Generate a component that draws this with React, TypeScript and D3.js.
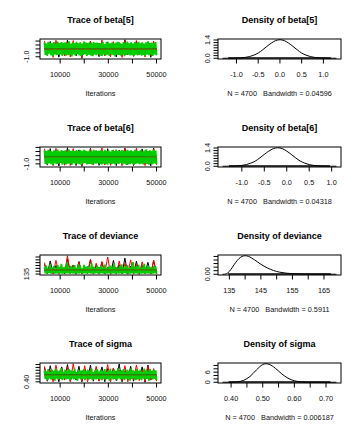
import React from "react";
import * as d3 from "d3";

// ---------- data ----------
const paramNames = ["beta[5]", "beta[6]", "deviance", "sigma"];
const bandwidths = ["0.04596", "0.04318", "0.5911", "0.006187"];
const sampleN = 4700;
const ITER_START = 3500;
const ITER_END = 50000;
const traceXTicks = [10000, 20000, 30000, 40000, 50000];
const traceXLabels = ["10000", "", "30000", "", "50000"];

// chains (thinned readings of the trace: black, red, green)
const beta5Black = [0.6,-0.7,0.95,-0.5,0.7,-1.05,0.55,-0.8,1.12,-0.6,0.75,-0.9,0.5,-1.19,0.8,-0.65,1.0,-0.7,0.6,-0.98,0.72,-0.55,0.9,-0.85,0.65,-1.02,0.8,-0.6,1.17,-0.75,0.55,-0.92,0.96,-0.7,0.68,-0.8,0.88,-1.07,0.6,-0.7];
const beta5Red = [1.02,-0.6,0.7,-1.08,1.1,-0.7,0.6,-0.9,0.85,-1.03,1.06,-0.55,0.65,-1.12,0.8,-0.7,0.98,-0.8,0.6,-0.75,1.14,-0.9,0.7,-1.0,0.92,-0.6,0.75,-1.09,1.04,-0.65,0.6,-0.95,1.07,-0.7,0.8,-1.04,0.66,-0.85,1.01,-0.7];
const beta5Green = [
  0.82,-0.75,0.68,-0.88,0.91,-0.62,0.77,-0.84,0.7,-0.93,0.86,-0.71,0.64,-0.8,0.95,-0.77,0.73,-0.69,0.88,-0.9,
  0.79,-0.66,0.84,-0.86,0.71,-0.79,0.98,-0.73,0.67,-0.95,0.83,-0.7,0.76,-0.87,0.9,-0.64,0.72,-0.82,0.85,-0.91,
  0.69,-0.76,0.93,-0.68,0.8,-0.89,0.74,-0.72,0.87,-0.83,0.66,-0.94,0.89,-0.7,0.78,-0.8,0.81,-0.67,0.75,-0.85,
  0.72,-0.88,0.86,-0.69,0.63,-0.83,0.92,-0.74,0.77,-0.9,0.7,-0.65,0.85,-0.81,0.68,-0.96,0.81,-0.72,0.9,-0.78,
  0.74,-0.86,0.65,-0.7,0.88,-0.92,0.79,-0.75,0.94,-0.68,0.71,-0.84,0.83,-0.79,0.67,-0.89,0.87,-0.73,0.76,-0.82,
  0.9,-0.66,0.73,-0.87,0.8,-0.77,0.69,-0.91,0.84,-0.71,0.96,-0.8,0.75,-0.74,0.82,-0.88,0.7,-0.69,0.86,-0.83];
const beta5Smooth = [0.02, -0.01, 0.0]; // lowess level per chain

const beta6Black = [0.5,-1.15,0.85,-0.9,0.6,-1.25,0.45,-1.0,0.96,-0.8,0.55,-1.2,0.7,-1.29,0.5,-0.9,0.88,-1.0,0.6,-1.18,0.45,-0.95,0.84,-1.05,0.55,-1.22,0.65,-0.85,0.9,-1.07,0.5,-1.2,0.6,-0.95,0.82,-1.0,0.55,-1.24,0.92,-0.9];
const beta6Red = [0.84,-0.9,0.5,-1.22,0.88,-0.95,0.6,-1.17,0.7,-1.2,0.86,-0.85,0.5,-1.26,0.65,-1.0,0.83,-1.15,0.55,-0.9,0.94,-1.13,0.5,-1.18,0.7,-0.9,0.6,-1.23,0.85,-1.0,0.55,-1.16,0.89,-0.95,0.6,-1.21,0.5,-1.0,0.81,-1.14];
const beta6Green = [
  0.62,-1.0,0.55,-1.08,0.7,-0.93,0.58,-1.04,0.51,-1.12,0.66,-0.96,0.6,-1.01,0.73,-0.98,0.53,-0.9,0.68,-1.1,
  0.57,-0.95,0.64,-1.06,0.5,-0.99,0.75,-0.94,0.59,-1.13,0.63,-0.92,0.56,-1.05,0.69,-0.97,0.52,-1.03,0.67,-1.09,
  0.6,-0.96,0.72,-0.91,0.58,-1.07,0.54,-1.0,0.65,-1.02,0.49,-1.11,0.7,-0.94,0.61,-0.99,0.57,-0.93,0.62,-1.04,
  0.66,-1.06,0.53,-0.97,0.71,-1.01,0.59,-1.1,0.64,-0.92,0.5,-1.04,0.68,-0.98,0.56,-1.08,0.74,-0.95,0.6,-1.02,
  0.55,-0.9,0.67,-1.07,0.62,-0.99,0.52,-1.12,0.7,-0.96,0.58,-1.03,0.65,-0.94,0.54,-1.09,0.72,-1.0,0.6,-0.93,
  0.57,-1.05,0.69,-0.98,0.51,-1.06,0.63,-0.91,0.76,-1.01,0.55,-1.1,0.66,-0.97,0.59,-1.04,0.7,-0.95,0.62,-1.02];
const beta6Smooth = [-0.19, -0.21, -0.2];

const devBlack = [152,135.2,158,136,150,135.4,146,135,162,136.5,151,134.8,157,135.8,148,135.5,160,134.9,150.5,136.2,156,135,147,134.7,159,135.3,151.5,136,163,134.9,149,135.4,157.5,134.6,150,135.9,155.5,135,158.5,135.8];
const devRed = [155,135.8,151,135.3,159,134.8,148,136,167.2,135,150,135.4,156,134.9,147,135.9,161,135.3,154,134.8,157,136.1,165,135.2,149,134.9,158,135.3,153.5,136,160,134.8,152,135.2,156.5,135.7,148.5,134.9,159.5,135];
const devGreen = [
  147,136.2,150,135.8,145,136.5,152,135.6,146,136.9,149,135.9,144,136.3,151,135.7,147.5,136.1,153,135.5,
  146.5,136.6,148,135.9,155,136.2,145.5,135.8,149.5,136.4,147,135.7,150.5,136,146,136.3,152.5,135.6,148.5,136.8,
  145,135.9,151,136.1,147.5,135.7,149,136.5,146,135.8,154,136.2,148,135.9,145.5,136.4,150,135.6,147,136,
  149,136.3,146,135.7,151.5,136.1,144.5,135.9,148,136.6,150,135.8,146.5,136.2,153.5,135.6,147,136.4,145,135.9,
  149.5,136.1,152,135.7,146,136.5,148.5,135.8,150.5,136.2,145.5,135.6,147.5,136.3,156,135.9,146.5,136.1,149,135.7,
  151,136.4,145,135.8,148,136,153,135.6,146.5,136.3,150,135.9,147,136.2,144.5,135.7,149.5,136.1,148,136];
const devSmooth = [141.6, 141.9, 141.7];

const sigmaBlack = [0.65,0.41,0.68,0.45,0.6,0.4,0.66,0.44,0.7,0.41,0.58,0.43,0.67,0.4,0.62,0.45,0.69,0.41,0.6,0.42,0.66,0.4,0.63,0.44,0.64,0.42,0.71,0.4,0.59,0.43,0.67,0.41,0.62,0.45,0.66,0.392,0.69,0.43,0.6,0.42];
const sigmaRed = [0.67,0.42,0.6,0.4,0.69,0.44,0.63,0.43,0.66,0.4,0.714,0.45,0.6,0.41,0.68,0.4,0.62,0.44,0.67,0.41,0.59,0.43,0.7,0.4,0.64,0.45,0.6,0.42,0.68,0.4,0.62,0.44,0.69,0.42,0.61,0.4,0.67,0.43,0.63,0.41];
const sigmaGreen = [
  0.6,0.45,0.58,0.43,0.62,0.46,0.57,0.44,0.61,0.45,0.59,0.42,0.63,0.46,0.58,0.44,0.6,0.45,0.64,0.43,
  0.57,0.46,0.61,0.44,0.59,0.45,0.62,0.43,0.6,0.46,0.58,0.44,0.63,0.45,0.57,0.42,0.61,0.46,0.59,0.44,
  0.6,0.45,0.62,0.43,0.58,0.46,0.61,0.44,0.59,0.45,0.63,0.43,0.57,0.46,0.6,0.44,0.62,0.45,0.58,0.44,
  0.61,0.43,0.59,0.46,0.62,0.44,0.57,0.45,0.6,0.42,0.63,0.46,0.58,0.44,0.61,0.45,0.59,0.43,0.64,0.46,
  0.58,0.44,0.6,0.45,0.62,0.43,0.57,0.46,0.61,0.44,0.59,0.42,0.63,0.45,0.6,0.46,0.58,0.43,0.62,0.44,
  0.59,0.45,0.61,0.43,0.57,0.46,0.63,0.44,0.6,0.45,0.58,0.42,0.62,0.46,0.59,0.44,0.61,0.45,0.6,0.43];
const sigmaSmooth = [0.516, 0.512, 0.514];

// trace y ticks
const beta5TraceYTicks = [-1.0, -0.5, 0, 0.5, 1.0];
const beta5TraceYLabels = ["-1.0", "", "", "", ""];
const beta6TraceYTicks = [-1.0, -0.5, 0, 0.5, 1.0];
const beta6TraceYLabels = ["-1.0", "", "", "", ""];
const devTraceYTicks = [135, 140, 145, 150, 155, 160, 165];
const devTraceYLabels = ["135", "", "", "", "", "", ""];
const sigmaTraceYTicks = [0.4, 0.45, 0.5, 0.55, 0.6, 0.65, 0.7];
const sigmaTraceYLabels = ["0.40", "", "", "", "", "", ""];

// densities
const beta5DensX = [-1.32,-1.2,-1.1,-1.0,-0.9,-0.8,-0.7,-0.6,-0.5,-0.4,-0.3,-0.2,-0.1,0,0.1,0.2,0.3,0.4,0.5,0.6,0.7,0.8,0.9,1.0,1.1,1.2,1.3];
const beta5DensY = [0,0.002,0.004,0.012,0.03,0.065,0.13,0.24,0.4,0.64,0.91,1.16,1.35,1.42,1.35,1.16,0.91,0.64,0.4,0.24,0.13,0.065,0.03,0.012,0.004,0.002,0];
const beta6DensX = [-1.43,-1.3,-1.2,-1.1,-1.0,-0.9,-0.8,-0.7,-0.6,-0.5,-0.4,-0.3,-0.2,-0.1,0,0.1,0.2,0.3,0.4,0.5,0.6,0.7,0.8,0.9,1.0,1.107];
const beta6DensY = [0,0.003,0.012,0.03,0.065,0.13,0.24,0.4,0.64,0.91,1.16,1.35,1.42,1.35,1.16,0.91,0.64,0.4,0.24,0.13,0.065,0.03,0.012,0.004,0.002,0];
const devDensX = [132.85,133.5,134,135,136,137,138,139,140,141,142,143,145,147,149,151,153,155,158,160,163,166,168.95];
const devDensY = [0,0.0003,0.0023,0.0158,0.04,0.066,0.087,0.1,0.104,0.101,0.092,0.081,0.056,0.036,0.021,0.0116,0.0062,0.0032,0.0011,0.0006,0.0002,0.0001,0];
const sigmaDensX = [0.373,0.4,0.42,0.44,0.46,0.48,0.5,0.51,0.52,0.54,0.56,0.58,0.6,0.62,0.64,0.66,0.68,0.7,0.733];
const sigmaDensY = [0,0.04,0.27,1.16,3.5,7.3,10.5,11,10.66,8.3,5.0,2.4,0.88,0.25,0.056,0.01,0.003,0.001,0];

const beta5DensXTicks = [-1.0, -0.5, 0, 0.5, 1.0];
const beta5DensXLabels = ["-1.0", "-0.5", "0.0", "0.5", "1.0"];
const beta6DensXTicks = [-1.0, -0.5, 0, 0.5, 1.0];
const beta6DensXLabels = ["-1.0", "-0.5", "0.0", "0.5", "1.0"];
const devDensXTicks = [135, 140, 145, 150, 155, 160, 165];
const devDensXLabels = ["135", "", "145", "", "155", "", "165"];
const sigmaDensXTicks = [0.4, 0.45, 0.5, 0.55, 0.6, 0.65, 0.7];
const sigmaDensXLabels = ["0.40", "", "0.50", "", "0.60", "", "0.70"];

const beta5DensYTicks = [0, 0.2, 0.4, 0.6, 0.8, 1.0, 1.2, 1.4];
const beta5DensYLabels = ["0.0", "", "", "", "", "", "", "1.4"];
const beta6DensYTicks = [0, 0.2, 0.4, 0.6, 0.8, 1.0, 1.2, 1.4];
const beta6DensYLabels = ["0.0", "", "", "", "", "", "", "1.4"];
const devDensYTicks = [0, 0.02, 0.04, 0.06, 0.08, 0.1];
const devDensYLabels = ["0.00", "", "", "", "", ""];
const sigmaDensYTicks = [0, 2, 4, 6, 8, 10];
const sigmaDensYLabels = ["0", "", "", "6", "", ""];

// ---------- assembled table ----------
const panels = [
  { black: beta5Black, red: beta5Red, green: beta5Green, smooth: beta5Smooth, tyT: beta5TraceYTicks, tyL: beta5TraceYLabels, dx: beta5DensX, dy: beta5DensY, dxT: beta5DensXTicks, dxL: beta5DensXLabels, dyT: beta5DensYTicks, dyL: beta5DensYLabels },
  { black: beta6Black, red: beta6Red, green: beta6Green, smooth: beta6Smooth, tyT: beta6TraceYTicks, tyL: beta6TraceYLabels, dx: beta6DensX, dy: beta6DensY, dxT: beta6DensXTicks, dxL: beta6DensXLabels, dyT: beta6DensYTicks, dyL: beta6DensYLabels },
  { black: devBlack, red: devRed, green: devGreen, smooth: devSmooth, tyT: devTraceYTicks, tyL: devTraceYLabels, dx: devDensX, dy: devDensY, dxT: devDensXTicks, dxL: devDensXLabels, dyT: devDensYTicks, dyL: devDensYLabels },
  { black: sigmaBlack, red: sigmaRed, green: sigmaGreen, smooth: sigmaSmooth, tyT: sigmaTraceYTicks, tyL: sigmaTraceYLabels, dx: sigmaDensX, dy: sigmaDensY, dxT: sigmaDensXTicks, dxL: sigmaDensXLabels, dyT: sigmaDensYTicks, dyL: sigmaDensYLabels },
];

// ---------- layout ----------
const ROW_H = 108;
const BOX_TOP = 39;
const BOX_BOTTOM = 59;
const TR_L = 40, TR_R = 161;
const DE_L = 218, DE_R = 341;
const TICK = 4.5;
const FONT = "'Liberation Sans', Arial, Helvetica, sans-serif";
const AXIS_FS = 7.3;
const TITLE_FS = 9;
const TEXT_COL = "#111";
const CHAIN_COLS = ["#000000", "#FF0000", "#00CD00"];

function pad4(lo: number, hi: number): [number, number] {
  const r = hi - lo;
  return [lo - 0.04 * r, hi + 0.04 * r];
}

function XAxis({ scale, ticks, labels, oy }: any) {
  const [d0, d1] = scale.domain();
  return (
    <g>
      {ticks.map((t: number, i: number) =>
        t >= d0 && t <= d1 ? (
          <g key={i}>
            <line x1={scale(t)} x2={scale(t)} y1={oy + BOX_BOTTOM} y2={oy + BOX_BOTTOM + TICK} stroke="#000" strokeWidth={1} />
            {labels[i] ? (
              <text x={scale(t)} y={oy + 76.6} fontSize={AXIS_FS} textAnchor="middle" fill={TEXT_COL}>{labels[i]}</text>
            ) : null}
          </g>
        ) : null
      )}
    </g>
  );
}

function YAxis({ scale, ticks, labels, left, labX }: any) {
  const [d0, d1] = scale.domain();
  return (
    <g>
      {ticks.map((t: number, i: number) =>
        t >= d0 && t <= d1 ? (
          <g key={i}>
            <line x1={left - TICK} x2={left} y1={scale(t)} y2={scale(t)} stroke="#000" strokeWidth={1} />
            {labels[i] ? (
              <text transform={`translate(${labX},${scale(t)}) rotate(-90)`} fontSize={AXIS_FS} textAnchor="middle" fill={TEXT_COL}>{labels[i]}</text>
            ) : null}
          </g>
        ) : null
      )}
    </g>
  );
}

function TracePanel({ p, r }: any) {
  const oy = r * ROW_H;
  const all = [...p.black, ...p.red, ...p.green];
  const [lo, hi] = d3.extent(all) as [number, number];
  const y = d3.scaleLinear().domain(pad4(lo, hi)).range([oy + BOX_BOTTOM, oy + BOX_TOP]);
  const x = d3.scaleLinear().domain(pad4(ITER_START, ITER_END)).range([TR_L, TR_R]);
  const mk = (vals: number[]) => {
    const it = d3.scaleLinear().domain([0, vals.length - 1]).range([ITER_START, ITER_END]);
    return d3.line<number>().x((_, i) => x(it(i))).y((v) => y(v))(vals) || "";
  };
  const clipId = `clipT${r}`;
  const chains = [p.black, p.red, p.green];
  return (
    <g>
      <clipPath id={clipId}>
        <rect x={TR_L} y={oy + BOX_TOP} width={TR_R - TR_L} height={BOX_BOTTOM - BOX_TOP} />
      </clipPath>
      <text x={(TR_L + TR_R) / 2} y={oy + 22.5} fontSize={TITLE_FS} fontWeight="bold" textAnchor="middle" fill="#000">
        {`Trace of ${paramNames[r]}`}
      </text>
      <g clipPath={`url(#${clipId})`}>
        {chains.map((c, k) => (
          <path key={k} d={mk(c)} fill="none" stroke={CHAIN_COLS[k]} strokeWidth={k === 2 ? 1.8 : 1} />
        ))}
        {p.smooth.map((s: number, k: number) => (
          <line key={`s${k}`} x1={x(ITER_START)} x2={x(ITER_END)} y1={y(s)} y2={y(s)} stroke={CHAIN_COLS[k]} strokeWidth={1} />
        ))}
      </g>
      <rect x={TR_L} y={oy + BOX_TOP} width={TR_R - TR_L} height={BOX_BOTTOM - BOX_TOP} fill="none" stroke="#000" strokeWidth={1} />
      <XAxis scale={x} ticks={traceXTicks} labels={traceXLabels} oy={oy} />
      <YAxis scale={y} ticks={p.tyT} labels={p.tyL} left={TR_L} labX={28.6} />
      <text x={(TR_L + TR_R) / 2} y={oy + 96} fontSize={AXIS_FS} textAnchor="middle" fill={TEXT_COL}>Iterations</text>
    </g>
  );
}

function DensityPanel({ p, r }: any) {
  const oy = r * ROW_H;
  const [x0, x1] = d3.extent(p.dx as number[]) as [number, number];
  const M = d3.max(p.dy as number[]) as number;
  const x = d3.scaleLinear().domain(pad4(x0, x1)).range([DE_L, DE_R]);
  const y = d3.scaleLinear().domain(pad4(0, M)).range([oy + BOX_BOTTOM, oy + BOX_TOP]);
  const pts = (p.dx as number[]).map((v, i) => [v, p.dy[i]] as [number, number]);
  const path = d3.line<[number, number]>().x((d) => x(d[0])).y((d) => y(d[1])).curve(d3.curveMonotoneX)(pts) || "";
  const all = [...p.black, ...p.red, ...p.green];
  const [obsLo, obsHi] = d3.extent(all) as [number, number];
  return (
    <g>
      <text x={(DE_L + DE_R) / 2} y={oy + 22.5} fontSize={TITLE_FS} fontWeight="bold" textAnchor="middle" fill="#000">
        {`Density of ${paramNames[r]}`}
      </text>
      <line x1={x(obsLo)} x2={x(obsHi)} y1={y(0) - 0.2} y2={y(0) - 0.2} stroke="#000" strokeWidth={1.6} />
      <path d={path} fill="none" stroke="#000" strokeWidth={1} />
      <rect x={DE_L} y={oy + BOX_TOP} width={DE_R - DE_L} height={BOX_BOTTOM - BOX_TOP} fill="none" stroke="#000" strokeWidth={1} />
      <XAxis scale={x} ticks={p.dxT} labels={p.dxL} oy={oy} />
      <YAxis scale={y} ticks={p.dyT} labels={p.dyL} left={DE_L} labX={209.9} />
      <text x={(DE_L + DE_R) / 2} y={oy + 96} fontSize={AXIS_FS} textAnchor="middle" fill={TEXT_COL} xmlSpace="preserve">
        {`N = ${sampleN}   Bandwidth = ${bandwidths[r]}`}
      </text>
    </g>
  );
}

export default function App() {
  return (
    <svg
      width={360}
      height={432}
      style={{ position: "absolute", left: 0, top: 0, background: "#fff" }}
      fontFamily={FONT}
    >
      <rect x={0} y={0} width={360} height={432} fill="#fff" />
      {panels.map((p, r) => (
        <g key={r}>
          <TracePanel p={p} r={r} />
          <DensityPanel p={p} r={r} />
        </g>
      ))}
    </svg>
  );
}
